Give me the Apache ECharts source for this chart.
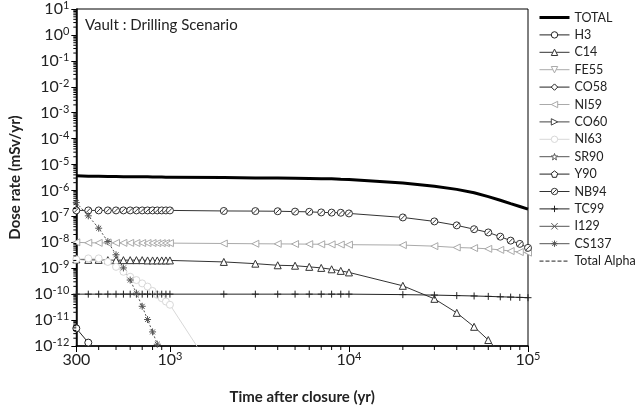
<!DOCTYPE html>
<html>
<head>
<meta charset="utf-8">
<script src="https://cdn.jsdelivr.net/npm/echarts@6/dist/echarts.min.js"></script>
<style>html,body{margin:0;padding:0;background:#fff}#c{width:635px;height:410px}</style>
</head>
<body>
<div id="c"></div>
<script>
// ---- data ----
const times = [300,350,400,450,500,550,600,650,700,750,800,850,900,950,1000,
  2000,3000,4000,5000,6000,7000,8000,9000,10000,
  20000,30000,40000,50000,60000,70000,80000,90000,100000];

const TOTAL = [3.7e-6,3.55e-6,3.5e-6,3.45e-6,3.45e-6,3.4e-6,3.4e-6,3.4e-6,3.35e-6,3.35e-6,3.3e-6,3.3e-6,3.3e-6,3.25e-6,3.25e-6,
  3.15e-6,3.05e-6,3.0e-6,2.95e-6,2.9e-6,2.85e-6,2.8e-6,2.7e-6,2.65e-6,
  1.95e-6,1.45e-6,1.1e-6,8.2e-7,5.8e-7,4.2e-7,3.1e-7,2.4e-7,1.9e-7];
const H3 = [4.8e-12,1.35e-12,3.8e-13];
const C14 = [2.2e-9,2.1e-9,2.1e-9,2.05e-9,2.05e-9,2.05e-9,2.05e-9,2.05e-9,2.05e-9,2.0e-9,2.0e-9,2.0e-9,2.0e-9,2.0e-9,2.0e-9,
  1.75e-9,1.5e-9,1.3e-9,1.25e-9,1.13e-9,1.03e-9,9.1e-10,7.9e-10,6.9e-10,
  2.1e-10,6.6e-11,1.9e-11,5.5e-12,1.7e-12,5.2e-13];
const FE55 = [];
const CO58 = [];
const NI59 = [1.0e-8,9.6e-9,9.5e-9,9.5e-9,9.5e-9,9.5e-9,9.5e-9,9.4e-9,9.4e-9,9.4e-9,9.4e-9,9.3e-9,9.3e-9,9.3e-9,9.3e-9,
  9.0e-9,8.8e-9,8.7e-9,8.6e-9,8.5e-9,8.4e-9,8.3e-9,8.2e-9,8.1e-9,
  7.8e-9,7.1e-9,6.3e-9,6.0e-9,5.6e-9,5.1e-9,4.6e-9,4.2e-9,4.0e-9];
const CO60 = [];
const NI63 = [2.2e-9,2.4e-9,2.4e-9,1.75e-9,1.13e-9,7.3e-10,4.7e-10,3.5e-10,2.6e-10,1.96e-10,1.33e-10,9.4e-11,7.0e-11,5.2e-11,3.9e-11,
  2.5e-14];
const SR90 = [];
const Y90 = [];
const NB94 = [1.7e-7,1.7e-7,1.7e-7,1.7e-7,1.7e-7,1.7e-7,1.7e-7,1.7e-7,1.7e-7,1.7e-7,1.7e-7,1.7e-7,1.7e-7,1.7e-7,1.7e-7,
  1.62e-7,1.6e-7,1.58e-7,1.53e-7,1.5e-7,1.42e-7,1.4e-7,1.38e-7,1.3e-7,
  9.1e-8,6.4e-8,4.5e-8,3.2e-8,2.4e-8,1.65e-8,1.16e-8,8.7e-9,6.1e-9];
const TC99 = [1e-10,1e-10,1e-10,1e-10,1e-10,1e-10,1e-10,1e-10,1e-10,1e-10,1e-10,1e-10,1e-10,1e-10,1e-10,
  1e-10,1e-10,1e-10,1e-10,1e-10,1e-10,1e-10,1e-10,1e-10,
  9.6e-11,9.2e-11,8.8e-11,8.5e-11,8.2e-11,7.9e-11,7.7e-11,7.5e-11,7.3e-11];
const I129 = [];
const CS137 = [3.4e-7,1.05e-7,3.5e-8,1.07e-8,3.3e-9,1.03e-9,3.5e-10,1.09e-10,3.4e-11,1.05e-11,3.5e-12,1.17e-12,3.6e-13];
const TOTAL_ALPHA = [];

const xMin = 300, xMax = 100000, yMin = 1e-12, yMax = 10;
const xMinorTicks = [400,500,600,700,800,900,2000,3000,4000,5000,6000,7000,8000,9000,20000,30000,40000,50000,60000,70000,80000,90000];
const yMinorMantissas = [2,3,4,5,6,7,8,9];
const yDecadeExponents = [-12,-11,-10,-9,-8,-7,-6,-5,-4,-3,-2,-1,0];
const titleText = 'Vault : Drilling Scenario';
const xName = 'Time after closure (yr)';
const yName = 'Dose rate (mSv/yr)';

// ---- styles ----
const FONT = 'Lato, "Open Sans", sans-serif';
const SYM = {
  down: 'path://M-5,-4 L5,-4 L0,5 Z',
  left: 'path://M5,-5 L-5,0 L5,5 Z',
  right: 'path://M-5,-5 L5,0 L-5,5 Z',
  star: 'path://M0,-5 L1.2,-1.6 L4.8,-1.5 L1.9,0.6 L2.9,4 L0,2 L-2.9,4 L-1.9,0.6 L-4.8,-1.5 L-1.2,-1.6 Z',
  pent: 'path://M0,-5 L4.8,-1.5 L2.9,4 L-2.9,4 L-4.8,-1.5 Z',
  slash: 'path://M5,0 A5,5 0 1 1 -5,0 A5,5 0 1 1 5,0 Z M-3.2,3.2 L3.2,-3.2',
  plus: 'path://M0,-5 L0,5 M-5,0 L5,0',
  cross: 'path://M-4,-4 L4,4 M-4,4 L4,-4',
  aster: 'path://M0,-5 L0,5 M-5,0 L5,0 M-3.5,-3.5 L3.5,3.5 M-3.5,3.5 L3.5,-3.5'
};
const specs = [
  {name:'TOTAL', data:TOTAL, color:'#000', width:3, symbol:'none'},
  {name:'H3', data:H3, color:'#222', symbol:'circle'},
  {name:'C14', data:C14, color:'#333', symbol:'triangle'},
  {name:'FE55', data:FE55, color:'#aaa', symbol:SYM.down},
  {name:'CO58', data:CO58, color:'#222', symbol:'diamond'},
  {name:'NI59', data:NI59, color:'#aaa', symbol:SYM.left},
  {name:'CO60', data:CO60, color:'#444', symbol:SYM.right},
  {name:'NI63', data:NI63, color:'#d8d8d8', symbol:'circle'},
  {name:'SR90', data:SR90, color:'#555', symbol:SYM.star},
  {name:'Y90', data:Y90, color:'#222', symbol:SYM.pent},
  {name:'NB94', data:NB94, color:'#333', symbol:SYM.slash},
  {name:'TC99', data:TC99, color:'#222', symbol:SYM.plus},
  {name:'I129', data:I129, color:'#555', symbol:SYM.cross},
  {name:'CS137', data:CS137, color:'#555', symbol:SYM.aster, dash:[2,2], legendSolid:true},
  {name:'Total Alpha', data:TOTAL_ALPHA, color:'#222', symbol:'none', dash:[4,2]}
];

const series = specs.map(s => ({
  name: s.name,
  type: 'line',
  data: s.data.map((v, i) => [times[i], v]),
  symbol: s.symbol,
  symbolSize: 7,
  showSymbol: s.symbol !== 'none',
  clip: true,
  silent: true,
  animation: false,
  lineStyle: {color: s.color, width: s.width || 1, type: s.dash || 'solid'},
  itemStyle: {color: '#fff', borderColor: s.color, borderWidth: 1},
  z: 3
}));

const yMinorTicks = [];
yDecadeExponents.forEach(e => yMinorMantissas.forEach(m => yMinorTicks.push(m * Math.pow(10, e))));

series.push({
  type: 'custom', silent: true, animation: false, clip: false, z: 5,
  data: xMinorTicks.map(v => [v, yMin]),
  renderItem: (params, api) => {
    const p = api.coord([api.value(0), yMin]);
    return {type: 'line', shape: {x1: p[0], y1: p[1], x2: p[0], y2: p[1] + 4}, style: {stroke: '#000', lineWidth: 1}};
  }
});
series.push({
  type: 'custom', silent: true, animation: false, clip: false, z: 5,
  data: yMinorTicks.map(v => [xMin, v]),
  renderItem: (params, api) => {
    const p = api.coord([xMin, api.value(1)]);
    return {type: 'line', shape: {x1: p[0] - 3, y1: p[1], x2: p[0], y2: p[1]}, style: {stroke: '#000', lineWidth: 1}};
  }
});

function powLabel(v) {
  const r = Math.round(v);
  if (Math.abs(r - 300) < 1) return '{b|300}';
  const e = Math.round(Math.log10(v));
  return '{b|10}{s|' + e + '}';
}
const rich = {
  b: {fontSize: 16, fontFamily: FONT, color: '#222', lineHeight: 18},
  s: {fontSize: 11, fontFamily: FONT, color: '#222', lineHeight: 11, verticalAlign: 'top'}
};

const legendData = specs.map(s => ({
  name: s.name,
  itemStyle: s.symbol === 'none'
    ? {color: 'rgba(0,0,0,0)', borderColor: 'rgba(0,0,0,0)', borderWidth: 0}
    : {color: '#fff', borderColor: s.color, borderWidth: 1},
  lineStyle: {color: s.color, width: s.width || 1, type: s.legendSolid ? 'solid' : (s.dash || 'solid')}
}));

const chart = echarts.init(document.getElementById('c'), null, {renderer: 'canvas'});
chart.setOption({
  animation: false,
  backgroundColor: '#fff',
  title: {text: titleText, left: 80, top: 13, textStyle: {fontFamily: FONT, fontSize: 15, fontWeight: 'normal', color: '#222'}},
  grid: {left: 72, right: 107, top: 8, bottom: 63, show: true, borderColor: '#000', borderWidth: 1},
  legend: {
    orient: 'vertical', left: 533, top: 6, itemWidth: 30, itemHeight: 8, itemGap: 4.4,
    data: legendData,
    textStyle: {fontFamily: FONT, fontSize: 12.5, color: '#222', lineHeight: 10},
    selectedMode: false
  },
  xAxis: {
    type: 'log', logBase: 10, min: xMin, max: xMax,
    name: xName, nameLocation: 'middle', nameGap: 44,
    nameTextStyle: {fontFamily: FONT, fontSize: 15, fontWeight: 'bold', color: '#222'},
    axisLine: {lineStyle: {color: '#000', width: 1.5}},
    axisTick: {inside: false, length: 6, lineStyle: {color: '#000'}},
    axisLabel: {margin: 5, formatter: powLabel, rich: rich},
    splitLine: {show: false}, minorTick: {show: false}
  },
  yAxis: {
    type: 'log', logBase: 10, min: yMin, max: yMax, interval: 1,
    name: yName, nameLocation: 'middle', nameGap: 45,
    nameTextStyle: {fontFamily: FONT, fontSize: 15, fontWeight: 'bold', color: '#222'},
    axisLine: {lineStyle: {color: '#000', width: 1.5}},
    axisTick: {inside: false, length: 5, lineStyle: {color: '#000'}},
    axisLabel: {margin: 7, formatter: powLabel, rich: rich},
    splitLine: {show: false}
  },
  series: series
});
</script>
</body>
</html>
